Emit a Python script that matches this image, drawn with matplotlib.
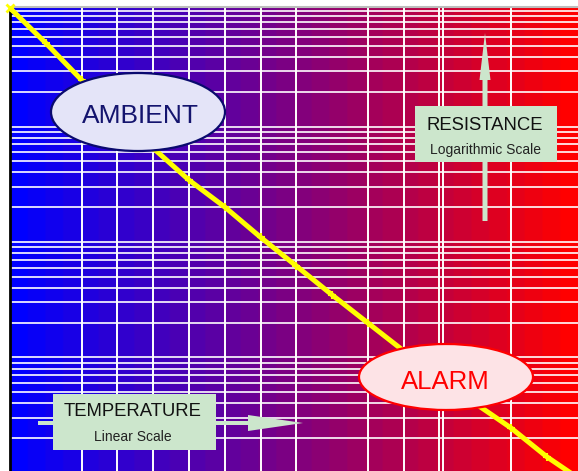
import numpy as np
import matplotlib.pyplot as plt
import matplotlib.patches as mpatches
import matplotlib.transforms as mtransforms
from matplotlib.colors import LinearSegmentedColormap

# ---- DATA ----
temperature = [0, 10, 20, 30, 40, 50, 60, 70, 80, 90, 100, 110, 120, 130, 140, 150, 160]
resistance = [106, 52.8, 25.3, 12.6, 6.5, 3.44, 2.01, 1.10, 0.62, 0.348,
              0.199, 0.114, 0.065, 0.040, 0.0245, 0.0138, 0.0085]

temp_gridlines = [20, 30, 40, 50, 60, 70, 80, 100, 110, 120, 121, 140]

labels_ellipse = ["AMBIENT", "ALARM"]
axis_titles = ["RESISTANCE", "TEMPERATURE"]
axis_subtitles = ["Logarithmic Scale", "Linear Scale"]

# ---- FIGURE ----
W, H = 578, 471
fig = plt.figure(figsize=(W / 100, H / 100), dpi=100)
plt.rcParams['font.family'] = ['Liberation Sans', 'DejaVu Sans']

# pixel transform (origin top-left)
px = mtransforms.Affine2D().scale(0.01, -0.01).translate(0, H / 100) + fig.dpi_scale_trans

rect = [10 / W, 0, (W - 10) / W, (H - 7) / H]

# background gradient blue -> red
bg = fig.add_axes(rect, zorder=-1)
cmap = LinearSegmentedColormap.from_list('br', ['#0000ff', '#ff0000'], N=32)
bg.imshow(np.linspace(0, 1, 256)[None, :], cmap=cmap, aspect='auto', extent=[0, 1, 0, 1])
bg.axis('off')

ax = fig.add_axes(rect)
ax.patch.set_alpha(0)
ax.set_yscale('log')
ax.set_xlim(0, 158.7)
ax.set_ylim(10 ** -1.983, 10 ** 2.035)
ax.set_xticks(temp_gridlines)
ax.grid(axis='x', which='major', color='white', lw=1.4)
ax.grid(axis='y', which='both', color='white', lw=1.2)
ax.tick_params(which='both', length=0, labelleft=False, labelbottom=False)
for s in ['right', 'bottom']:
    ax.spines[s].set_visible(False)
ax.spines['top'].set_color('#bdbdbd')
ax.spines['top'].set_linewidth(1.5)
ax.spines['left'].set_color('black')
ax.spines['left'].set_linewidth(2)

# thermistor curve
ax.plot(temperature, resistance, color='#ffff00', lw=3.6, marker='+', ms=6, mew=1.5, zorder=3)
ax.plot(temperature[:1], resistance[:1], color='#ffff00', marker='x', ms=6, mew=2,
        clip_on=False, zorder=4)

# ---- ANNOTATIONS ----
green = '#cce6cc'

fig.add_artist(mpatches.FancyArrow(485, 221, 0, -188, width=5, head_width=11, head_length=47,
                                   length_includes_head=True, color=green, transform=px, lw=0))
fig.add_artist(mpatches.FancyArrow(38, 423, 265, 0, width=4, head_width=16, head_length=55,
                                   length_includes_head=True, color=green, transform=px, lw=0))

fig.add_artist(mpatches.Rectangle((415, 106), 142, 56, color=green, transform=px, lw=0, zorder=2))
fig.add_artist(mpatches.Rectangle((53, 394), 163, 56, color=green, transform=px, lw=0, zorder=2))

fig.add_artist(mpatches.Ellipse((138, 112), 174, 78, facecolor='#e4e4f8', edgecolor='#0a0a6e',
                                lw=1.6, transform=px, zorder=2))
fig.add_artist(mpatches.Ellipse((446, 377), 174, 66, facecolor='#fde3e6', edgecolor='#ff0000',
                                lw=1.6, transform=px, zorder=2))

fig.text(140, 116, labels_ellipse[0], transform=px, ha='center', va='center',
         fontsize=19, color='#14146e', zorder=3)
fig.text(445, 382, labels_ellipse[1], transform=px, ha='center', va='center',
         fontsize=18.5, color='#ff0000', zorder=3)

fig.text(485, 125, axis_titles[0], transform=px, ha='center', va='center',
         fontsize=13.3, color='#111111', zorder=3)
fig.text(486, 150, axis_subtitles[0], transform=px, ha='center', va='center',
         fontsize=10, color='#222222', zorder=3)
fig.text(133, 412, axis_titles[1], transform=px, ha='center', va='center',
         fontsize=13.3, color='#111111', zorder=3)
fig.text(133, 437, axis_subtitles[1], transform=px, ha='center', va='center',
         fontsize=10, color='#222222', zorder=3)

fig.savefig('out.png', dpi=100)
